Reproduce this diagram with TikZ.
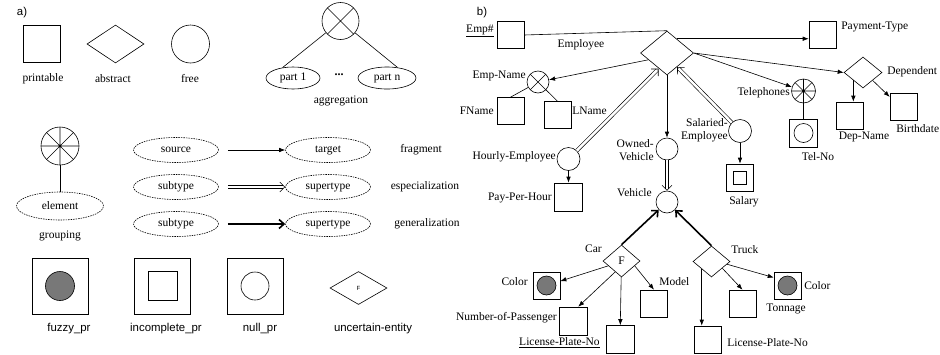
\documentclass[tikz,border=0pt]{standalone}
\usepackage{fontspec}
\setmainfont{Liberation Serif}
\setsansfont{Liberation Sans}
\usetikzlibrary{shapes.geometric,arrows.meta,decorations.markings}
\definecolor{fuzzgray}{gray}{0.47}

\begin{document}
\begin{tikzpicture}[x=1pt,y=-1pt,inner sep=1pt,line width=0.6pt,font=\fontsize{11.5}{13}\selectfont,
  sqbox/.style={draw,rectangle,minimum size=27pt,inner sep=0pt},
  rel/.style={draw,diamond,inner sep=0pt},
  attr/.style={draw,circle,minimum size=22pt,inner sep=0pt},
  crossed/.style={draw,circle,inner sep=0pt,path picture={
    \draw (path picture bounding box.north west) -- (path picture bounding box.south east)
          (path picture bounding box.north east) -- (path picture bounding box.south west);}},
  wheel/.style={draw,circle,inner sep=0pt,path picture={
    \draw (path picture bounding box.north west) -- (path picture bounding box.south east)
          (path picture bounding box.north east) -- (path picture bounding box.south west)
          (path picture bounding box.north) -- (path picture bounding box.south)
          (path picture bounding box.west) -- (path picture bounding box.east);
    \fill (path picture bounding box.center) circle (1.3pt);}},
  part/.style={draw,ellipse,inner sep=0pt},
  dotpart/.style={part,dash pattern=on 1.5pt off 1pt,minimum width=85pt,minimum height=25pt},
  fuzzy/.style={path picture={\draw[fill=fuzzgray] (path picture bounding box.center) circle (#1);}},
  nullin/.style={path picture={\draw (path picture bounding box.center) circle (#1);}},
  incomp/.style={path picture={\draw (path picture bounding box.center) +(-#1,-#1) rectangle +(#1,#1);}},
  sf/.style={font=\sffamily\fontsize{11.4}{13}\selectfont},
  arr/.style={-{Latex[length=6pt,width=4.5pt]}},
  spec/.style={double,double distance=2.5pt,shorten >=2.2pt,
    postaction={decorate,decoration={markings,
      mark=at position 1 with {\arrow[line width=0.6pt]{Straight Barb[length=5pt,width=10pt]}}}}},
  gen/.style={line width=1.6pt,-{Straight Barb[length=5pt,width=9pt]}}]
\useasboundingbox (0,0) rectangle (940,354);

\node[sf] (alab) at (22,13) {a)};
\node[sqbox,minimum size=37pt] (printable) at (41.5,44) {};
\node (lprintable) at (43,79) {printable};
\node[rel,minimum width=57pt,minimum height=38pt] (abstract) at (115.5,44) {};
\node (labstract) at (113,79) {abstract};
\node[draw,circle,minimum size=38pt,inner sep=0pt] (free) at (190.5,44) {};
\node (lfree) at (190,79) {free};

\node[crossed,minimum size=37pt] (agg) at (340.5,21) {};
\node[part,minimum width=54pt,minimum height=22pt] (part1) at (293,78) {part 1};
\node[part,minimum width=58pt,minimum height=22pt] (partn) at (387,78) {part n};
\node[font=\large\bfseries] (dots) at (339,75) {...};
\draw (agg) -- (part1.135);
\draw (agg) -- (partn.45);
\node (lagg) at (341,101) {aggregation};

\node[wheel,minimum size=38pt] (grp) at (60,146) {};
\node[dotpart,minimum width=87pt,minimum height=28pt] (element) at (60,206) {element};
\draw (grp) -- (element);
\node (lgrp) at (60,236) {grouping};

\node[dotpart] (source) at (176,150) {source};
\node[dotpart] (target) at (328,150) {target};
\draw (source) edge[arr,shorten <=9pt] (target);
\node (lfrag) at (421,150) {fragment};
\node[dotpart] (sub1) at (176,187) {subtype};
\node[dotpart] (super1) at (328,187) {supertype};
\draw (sub1) edge[spec,shorten <=9pt] (super1);
\node (lspec) at (425,187) {especialization};
\node[dotpart] (sub2) at (176,224) {subtype};
\node[dotpart] (super2) at (328,224) {supertype};
\draw (sub2) edge[gen,shorten <=9pt] (super2);
\node (lgen) at (427,224) {generalization};

\node[sqbox,minimum size=56pt,fuzzy=14.5pt] (fuzzypr) at (60,286) {};
\node[sf] (lfuzzypr) at (69,329) {fuzzy\_pr};
\node[sqbox,minimum size=56pt,incomp=14.5pt] (incpr) at (162.5,286) {};
\node[sf] (lincpr) at (166,329) {incomplete\_pr};
\node[sqbox,minimum size=56pt,nullin=14pt] (nullpr) at (255,286) {};
\node[sf] (lnullpr) at (260,329) {null\_pr};
\node[rel,minimum width=57pt,minimum height=33pt,font=\sffamily\fontsize{6}{7}\selectfont] (uncertain) at (358.5,288) {F};
\node[sf] (luncertain) at (373,329) {uncertain-entity};

\node[sf] (blab) at (482,13) {b)};
\node[rel,minimum width=53pt,minimum height=44pt] (employee) at (667,53) {};
\node (lemployee) at (581,45) {Employee};
\node[sqbox] (empno) at (510.5,35) {};
\node[anchor=east] (lempno) at (495,31) {\underline{Emp\#}};
\draw (empno.east) -- (employee.north);
\node[sqbox] (paytype) at (822.5,35) {};
\node[anchor=west] (lpaytype) at (840,27) {Payment-Type};
\draw (employee.56) edge[arr] (employee.56 -| paytype.west);

\node[rel,minimum width=38pt,minimum height=31pt] (dependent) at (863,72.5) {};
\node[anchor=west] (ldependent) at (886,72) {Dependent};
\draw (employee.east) edge[arr] (dependent.west);
\node[sqbox] (depname) at (850,115.5) {};
\node (ldepname) at (864,137) {Dep-Name};
\draw (dependent.south west) edge[arr] (dependent.south west |- depname.north);
\node[sqbox] (birthdate) at (903.5,106.5) {};
\node[anchor=west] (lbirthdate) at (895,129) {Birthdate};
\draw (dependent.south east) edge[arr] (birthdate.145);

\node[wheel,minimum size=24pt] (phones) at (803.5,91) {};
\node[anchor=east] (lphones) at (791,93) {Telephones};
\draw (employee.east) edge[arr] (phones);
\node[sqbox,minimum size=28pt,nullin=9.5pt] (telno) at (803.5,133) {};
\node (ltelno) at (818,157) {Tel-No};
\draw (phones) -- (telno);

\node[crossed,minimum size=22pt] (empname) at (538,82) {};
\node[anchor=east] (lempname) at (527,76) {Emp-Name};
\draw (employee.200) edge[arr] (empname);
\node[sqbox] (fname) at (510.5,111) {};
\node[anchor=east] (lfname) at (495,111) {FName};
\draw (empname) -- (fname.north);
\node[sqbox] (lname) at (557.5,115) {};
\node[anchor=west] (llname) at (571,111) {LName};
\draw (empname) -- (lname.north);

\node[attr,minimum size=23pt] (hourly) at (568.5,159) {};
\node[anchor=east] (lhourly) at (557,157) {Hourly-Employee};
\draw (hourly) edge[spec] (employee.242);
\node[sqbox,minimum size=28pt] (payhour) at (568.5,197) {};
\node[anchor=east] (lpayhour) at (553,198) {Pay-Per-Hour};
\draw (hourly) edge[arr] (payhour);

\node[attr] (owned) at (667,149) {};
\node[anchor=east,align=right] (lowned) at (655,150) {Owned-\\Vehicle};
\draw (employee.south) edge[arr] (owned);
\node[attr] (vehicle) at (667,202) {};
\node[anchor=east] (lvehicle) at (653,193) {Vehicle};
\draw (owned) edge[spec] (vehicle);

\node[attr,minimum size=23pt] (salaried) at (740,131) {};
\node[anchor=east,align=right] (lsalaried) at (729,130) {Salaried-\\Employee};
\draw (salaried) edge[spec] (employee.-54);
\node[sqbox,incomp=6.5pt] (salary) at (740,177.5) {};
\node (lsalary) at (744,202) {Salary};
\draw (salaried) edge[arr] (salary);

\node[rel,minimum width=37pt,minimum height=32pt] (car) at (621.5,261) {F};
\node[anchor=east] (lcar) at (603,249) {Car};
\draw (car.north) edge[gen] (vehicle);
\node[rel,minimum width=37pt,minimum height=31pt] (truck) at (711.5,261.5) {};
\node[anchor=west] (ltruck) at (730,250) {Truck};
\draw (truck.north) edge[gen] (vehicle);

\node[sqbox,fuzzy=9.5pt] (carcolor) at (546.5,285.5) {};
\node[anchor=east] (lcarcolor) at (529,282) {Color};
\draw (car.200) edge[arr] (carcolor);
\node[sqbox,minimum size=28pt] (passengers) at (573,321) {};
\node[anchor=east] (lpassengers) at (558,318) {Number-of-Passenger};
\draw (car.240) edge[arr] (passengers.70);
\node[sqbox,minimum size=28pt] (carplate) at (620,339.5) {};
\node[anchor=east] (lcarplate) at (601,343) {\underline{License-Plate-No}};
\draw (car) edge[arr] (carplate);
\node[sqbox] (model) at (654,303.5) {};
\node[anchor=west] (lmodel) at (658,282) {Model};
\draw (car.-20) edge[arr] (model.north);

\node[sqbox] (truckplate) at (707.5,339.5) {};
\node[anchor=west] (ltruckplate) at (726,343) {License-Plate-No};
\draw (truck.218) edge[arr] (truck.218 |- truckplate.north);
\node[sqbox] (tonnage) at (742.5,303.5) {};
\node[anchor=west] (ltonnage) at (765,309) {Tonnage};
\draw (truck.-32) edge[arr] (tonnage.north);
\node[sqbox,fuzzy=9.5pt] (truckcolor) at (787.5,285.5) {};
\node[anchor=west] (ltruckcolor) at (803,286) {Color};
\draw (truck.-10) edge[arr] (truckcolor.150);
\end{tikzpicture}
\end{document}
